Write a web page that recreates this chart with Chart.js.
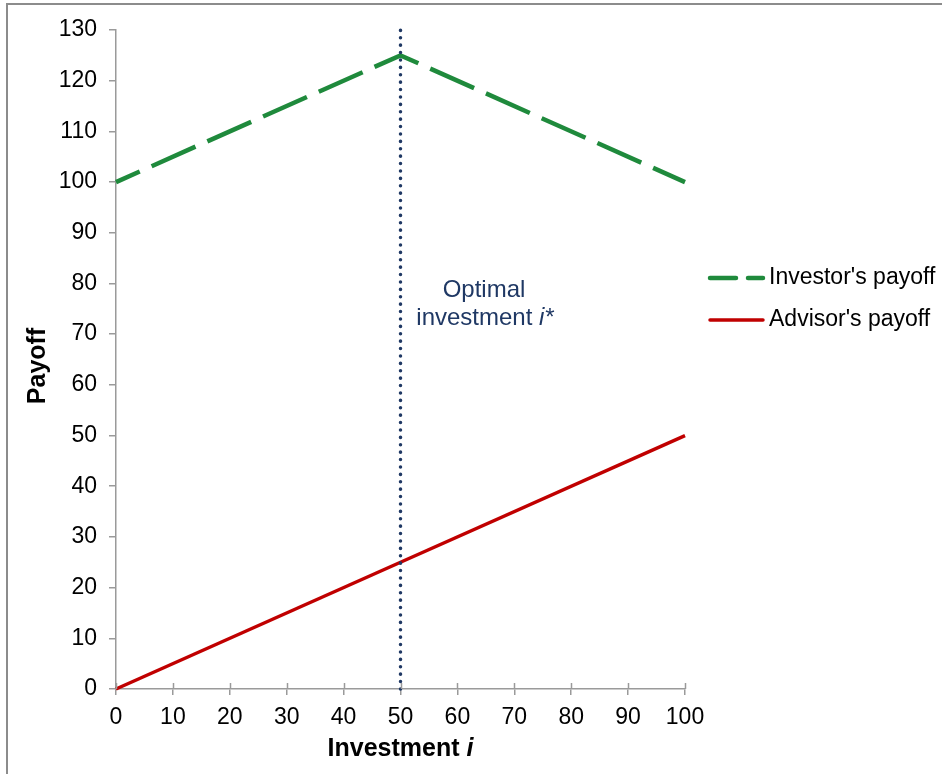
<!DOCTYPE html>
<html>
<head>
<meta charset="utf-8">
<script src="https://cdn.jsdelivr.net/npm/chart.js@4.4.1/dist/chart.umd.min.js"></script>
<style>
  body { margin: 0; background: #fff; }
  #wrap { width: 942px; height: 774px; position: relative; }
</style>
</head>
<body>
<div id="wrap"><canvas id="payoffChart"></canvas></div>
<script>
// values
const investment = [0, 50, 100];
const investorPayoff = [100, 125, 100];
const advisorPayoff = [0, 25, 50];
const optimalInvestment = 50;
const optimalSpan = [0, 130];
const xTicks = [0, 100, 10];   // min, max, step
const yTicks = [0, 130, 10];

const FONT = '"Liberation Sans", Arial, sans-serif';
const green = '#1F8A3C';
const red = '#C00000';
const navy = '#1F3864';
const axisGray = '#9A9A9A';

const toPoints = (xs, ys) => xs.map((x, i) => ({ x: x, y: ys[i] }));

// legend, axis titles, annotation and inner half of the x ticks
const extras = {
  id: 'extras',
  afterDraw(chart) {
    const ctx = chart.ctx;
    const area = chart.chartArea;
    const xs = chart.scales.x;
    ctx.save();

    // frame edge of the original picture
    ctx.strokeStyle = '#8C8C8C';
    ctx.lineWidth = 2;
    ctx.beginPath();
    ctx.moveTo(7, 774); ctx.lineTo(7, 4); ctx.lineTo(942, 4);
    ctx.stroke();

    // x ticks also poke up into the plot
    ctx.strokeStyle = axisGray;
    ctx.lineWidth = 1.5;
    xs.ticks.forEach(t => {
      const px = Math.round(xs.getPixelForValue(t.value)) + 0.5;
      ctx.beginPath();
      ctx.moveTo(px, area.bottom);
      ctx.lineTo(px, area.bottom - 6);
      ctx.stroke();
    });

    // axis titles
    ctx.fillStyle = '#000';
    ctx.textBaseline = 'middle';
    const a = 'Investment ';
    ctx.font = 'bold 25px ' + FONT;
    const wA = ctx.measureText(a).width;
    ctx.font = 'italic bold 25px ' + FONT;
    const wB = ctx.measureText('i').width;
    const cx = (area.left + area.right) / 2;
    const sx = cx - (wA + wB) / 2;
    ctx.textAlign = 'left';
    ctx.font = 'bold 25px ' + FONT;
    ctx.fillText(a, sx, 749);
    ctx.font = 'italic bold 25px ' + FONT;
    ctx.fillText('i', sx + wA, 749);

    ctx.save();
    ctx.translate(38, 366);
    ctx.rotate(-Math.PI / 2);
    ctx.textAlign = 'center';
    ctx.font = 'bold 25px ' + FONT;
    ctx.fillText('Payoff', 0, 0);
    ctx.restore();

    // annotation next to the optimal line
    ctx.fillStyle = navy;
    ctx.textAlign = 'center';
    ctx.font = '24px ' + FONT;
    ctx.fillText('Optimal', 484, 290);
    const l1 = 'investment ';
    const w1 = ctx.measureText(l1).width;
    ctx.font = 'italic 24px ' + FONT;
    const w2 = ctx.measureText('i*').width;
    const lx = 485 - (w1 + w2) / 2;
    ctx.textAlign = 'left';
    ctx.font = '24px ' + FONT;
    ctx.fillText(l1, lx, 318);
    ctx.font = 'italic 24px ' + FONT;
    ctx.fillText('i*', lx + w1, 318);

    // legend
    const items = chart.data.datasets.filter(d => d.label);
    items.forEach((d, i) => {
      const y = 278 + i * 42;
      ctx.strokeStyle = d.borderColor;
      ctx.lineWidth = d.borderWidth;
      ctx.lineCap = 'round';
      ctx.setLineDash(d.legendDash || []);
      ctx.beginPath();
      ctx.moveTo(710, y);
      ctx.lineTo(763, y);
      ctx.stroke();
      ctx.setLineDash([]);
      ctx.fillStyle = '#000';
      ctx.font = '23px ' + FONT;
      ctx.textAlign = 'left';
      ctx.fillText(d.label, 769, y);
    });

    ctx.restore();
  }
};

new Chart(document.getElementById('payoffChart'), {
  type: 'line',
  data: {
    datasets: [
      {
        data: toPoints([optimalInvestment, optimalInvestment], optimalSpan),
        borderColor: navy,
        borderWidth: 3.5,
        borderDash: [0.1, 7.3],
        borderCapStyle: 'round',
        pointRadius: 0,
        clip: false
      },
      {
        label: "Investor's payoff",
        data: toPoints(investment, investorPayoff),
        borderColor: green,
        borderWidth: 4.5,
        borderDash: [48, 13],
        borderDashOffset: 22,
        legendDash: [26, 12],
        pointRadius: 0,
        tension: 0,
        clip: false
      },
      {
        label: "Advisor's payoff",
        data: toPoints(investment, advisorPayoff),
        borderColor: red,
        borderWidth: 3.5,
        pointRadius: 0,
        tension: 0,
        clip: false
      }
    ]
  },
  options: {
    responsive: true,
    maintainAspectRatio: false,
    animation: false,
    events: [],
    layout: { padding: { left: 0, top: 30, right: 257, bottom: 0 } },
    plugins: { legend: { display: false }, tooltip: { enabled: false } },
    scales: {
      x: {
        type: 'linear',
        min: xTicks[0], max: xTicks[1],
        afterFit: s => { s.height = 85; },
        border: { color: axisGray, width: 1.5 },
        grid: { drawOnChartArea: false, color: axisGray, lineWidth: 1.5, tickLength: 6 },
        ticks: { stepSize: xTicks[2], color: '#000', padding: 9, maxRotation: 0, font: { family: FONT, size: 23 } }
      },
      y: {
        min: yTicks[0], max: yTicks[1],
        afterFit: s => { s.width = 116; },
        border: { color: axisGray, width: 1.5 },
        grid: { drawOnChartArea: false, color: axisGray, lineWidth: 1.5, tickLength: 7 },
        ticks: { stepSize: yTicks[2], color: '#000', padding: 12, font: { family: FONT, size: 23 } }
      }
    }
  },
  plugins: [extras]
});
</script>
</body>
</html>
